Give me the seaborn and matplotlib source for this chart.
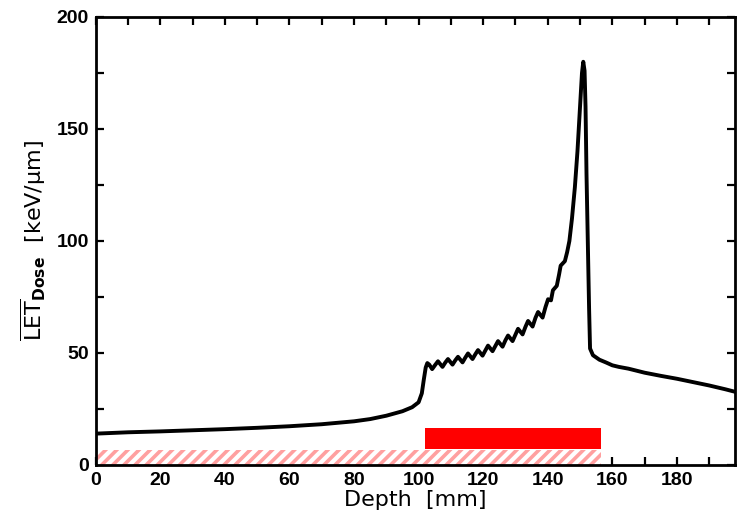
import matplotlib
matplotlib.use("Agg")
import matplotlib.pyplot as plt
from matplotlib.ticker import MultipleLocator
import seaborn as sns
import pandas as pd

# ---- data ----
depth_mm = [0, 10, 20, 30, 40, 50, 60, 70, 80, 85, 90, 95, 98, 100,
            101.0, 101.6, 102.2, 102.7, 103.3, 104.2, 105.2, 106.0,
            107.4, 108.3, 109.1, 110.5, 111.4, 112.2, 113.6, 114.5, 115.3,
            116.7, 117.6, 118.4, 119.8, 120.7, 121.5, 122.9, 123.8, 124.6,
            126.0, 126.9, 127.7, 129.1, 130.0, 130.8, 132.2, 133.1, 133.9,
            135.3, 136.2, 137.0, 138.4, 139.3, 140.1, 141.0, 141.6, 142.8,
            143.5, 144.0, 145.3, 146.0, 146.7, 147.5, 148.4, 149.2, 150.0,
            150.6, 151.0, 151.4, 151.7, 152.0, 152.4, 152.8, 153.1, 154.0,
            156, 158, 160, 162, 165, 170, 175, 180, 185, 190, 195, 198.5]
let_dose = [14.0, 14.6, 15.0, 15.5, 16.0, 16.6, 17.3, 18.2, 19.5, 20.5, 22.0, 24.0, 25.8, 28.0,
            32.0, 38.0, 43.5, 45.5, 44.8, 42.8, 44.8, 46.3,
            43.8, 45.8, 47.3, 44.8, 46.8, 48.3, 45.8, 48.0, 49.8,
            47.3, 49.5, 51.3, 48.8, 51.2, 53.3, 50.8, 53.2, 55.3,
            52.8, 55.7, 57.8, 55.3, 58.2, 60.8, 58.3, 61.7, 64.3,
            61.8, 65.7, 68.3, 65.8, 70.5, 74.0, 73.5, 78.0, 80.0,
            85.0, 89.0, 91.0, 95.0, 100.0, 110.0, 124.0, 140.0, 160.0,
            175.0, 180.0, 176.0, 160.0, 130.0, 100.0, 70.0, 52.0, 49.0,
            47.0, 45.8, 44.5, 43.8, 43.0, 41.2, 39.8, 38.5, 37.0, 35.5, 33.8, 32.5]

# target region bars: (start, end, bottom, top)
solid_bar = [102.0, 156.5, 7.0, 16.5]
hatched_bar = [0.0, 156.5, 0.0, 6.7]

x_ticks = [0, 20, 40, 60, 80, 100, 120, 140, 160, 180]
y_ticks = [0, 50, 100, 150, 200]

sns.set_theme(style="white")
plt.rcParams["hatch.linewidth"] = 2.6
plt.rcParams["font.family"] = ["DejaVu Sans"]

fig = plt.figure(figsize=(7.42, 5.24), dpi=100)
ax = fig.add_axes([0.129, 0.1126, 0.8616, 0.855])

df = pd.DataFrame({"Depth": depth_mm, "LET": let_dose})
sns.lineplot(data=df, x="Depth", y="LET", ax=ax, color="black", linewidth=2.8,
             sort=False, estimator=None, zorder=4)

ax.bar(solid_bar[0], solid_bar[3] - solid_bar[2], width=solid_bar[1] - solid_bar[0],
       bottom=solid_bar[2], align="edge", color="#ff0000", linewidth=0, zorder=3)
ax.bar(hatched_bar[0], hatched_bar[3] - hatched_bar[2], width=hatched_bar[1] - hatched_bar[0],
       bottom=hatched_bar[2], align="edge", facecolor="white", edgecolor="#ffa0a0",
       hatch="///", linewidth=0, zorder=3)

ax.set_xlim(0, 198)
ax.set_ylim(0, 200)
ax.set_xticks(x_ticks)
ax.set_yticks(y_ticks)
ax.xaxis.set_minor_locator(MultipleLocator(10))
ax.yaxis.set_minor_locator(MultipleLocator(25))
ax.tick_params(which="both", direction="in", top=True, right=True, bottom=True, left=True,
               length=6, width=1.6, color="black", labelcolor="black", pad=5)
for lab in ax.get_xticklabels() + ax.get_yticklabels():
    lab.set_fontfamily("Liberation Sans")
    lab.set_fontweight("bold")
    lab.set_fontsize(14)
for s in ax.spines.values():
    s.set_color("black")
    s.set_linewidth(2.0)
    s.set_zorder(5)

ax.set_xlabel("Depth  [mm]", fontsize=16, labelpad=1, color="black")
ax.set_ylabel(r"$\overline{\mathrm{LET}}_{\mathbf{Dose}}$  [keV/μm]", fontsize=16,
              labelpad=6, color="black")

fig.savefig("out.png", dpi=100, facecolor="white")
